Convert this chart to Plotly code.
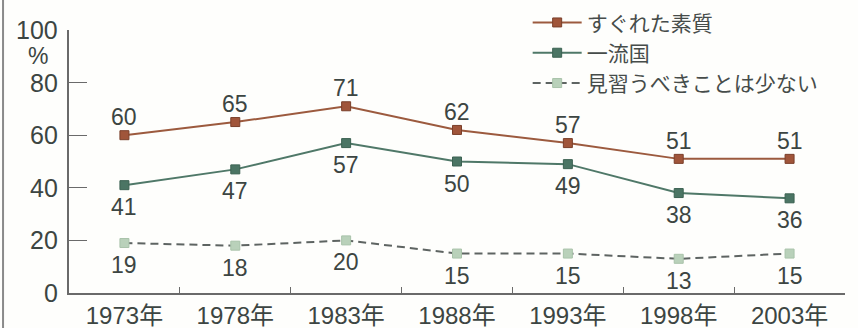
import plotly.graph_objects as go

years = ["1973年", "1978年", "1983年", "1988年", "1993年", "1998年", "2003年"]
names = ["すぐれた素質", "一流国", "見習うべきことは少ない"]
s1 = [60, 65, 71, 62, 57, 51, 51]
s2 = [41, 47, 57, 50, 49, 38, 36]
s3 = [19, 18, 20, 15, 15, 13, 15]
# label placement: +1 above, -1 below
pos1 = [1, 1, 1, 1, 1, 1, 1]
pos2 = [-1, -1, -1, -1, -1, -1, -1]
pos3 = [-1, -1, -1, -1, -1, -1, -1]
ytick_vals = [0, 20, 40, 60, 80, 100]

FONT = "Liberation Sans, Arial, Noto Sans CJK JP, sans-serif"
TXT = "#3c4542"

fig = go.Figure()
fig.add_trace(go.Scatter(x=years, y=s1, name=names[0], mode="lines+markers",
                         line=dict(color="#9c5a3e", width=2),
                         marker=dict(symbol="square", size=9, color="#a0553a",
                                     line=dict(color="#7a3f2a", width=1))))
fig.add_trace(go.Scatter(x=years, y=s2, name=names[1], mode="lines+markers",
                         line=dict(color="#4f7868", width=2),
                         marker=dict(symbol="square", size=9, color="#4b7564",
                                     line=dict(color="#3c6252", width=1))))
fig.add_trace(go.Scatter(x=years, y=s3, name=names[2], mode="lines+markers",
                         line=dict(color="#5e6462", width=2, dash="8px,5px"),
                         marker=dict(symbol="square", size=9, color="#b9d1ba",
                                     line=dict(color="#a9c3aa", width=1))))

ann = []
for vals, poss in ((s1, pos1), (s2, pos2), (s3, pos3)):
    for x, v, p in zip(years, vals, poss):
        ann.append(dict(x=x, y=v, text=str(v), showarrow=False,
                        yshift=18 if p > 0 else -22,
                        font=dict(size=23, color=TXT, family=FONT)))
# y tick labels as annotations for exact horizontal placement
for v in ytick_vals:
    ann.append(dict(xref="paper", yref="y", x=-0.012, y=v, text=str(v), showarrow=False,
                    xanchor="right", font=dict(size=25, color=TXT, family=FONT)))
ann.append(dict(xref="paper", yref="y", x=-0.024, y=90, text="%", showarrow=False,
                xanchor="right", font=dict(size=23, color=TXT, family=FONT)))

fig.update_layout(
    width=858, height=328,
    margin=dict(l=69, r=13, t=30, b=35, autoexpand=False),
    paper_bgcolor="#fefefc", plot_bgcolor="#fefefc",
    font=dict(family=FONT, color=TXT),
    showlegend=True,
    legend=dict(xref="container", yref="container", x=0.615, y=0.993,
                xanchor="left", yanchor="top",
                bgcolor="rgba(0,0,0,0)", font=dict(size=21, color="#464c4a", family=FONT),
                tracegroupgap=0, itemwidth=49),
    annotations=ann,
    shapes=[dict(type="line", xref="paper", yref="paper", x0=-0.085, x1=-0.085,
                 y0=-0.2, y1=1.2, line=dict(color="#8a8a8a", width=2))],
)
fig.update_xaxes(type="category", range=[-0.5, 6.5], showline=True, linecolor="#6a6a6a",
                 linewidth=1.5, ticks="inside", tickson="boundaries", ticklen=6,
                 tickcolor="#6a6a6a", showgrid=False, zeroline=False,
                 tickfont=dict(size=24, color=TXT, family=FONT))
fig.update_yaxes(range=[0, 100], tickvals=ytick_vals, showline=True, linecolor="#6a6a6a",
                 linewidth=1.5, ticks="inside", ticklen=18, tickcolor="#6a6a6a",
                 showgrid=False, zeroline=False, showticklabels=False)

fig.write_html("out.html")
